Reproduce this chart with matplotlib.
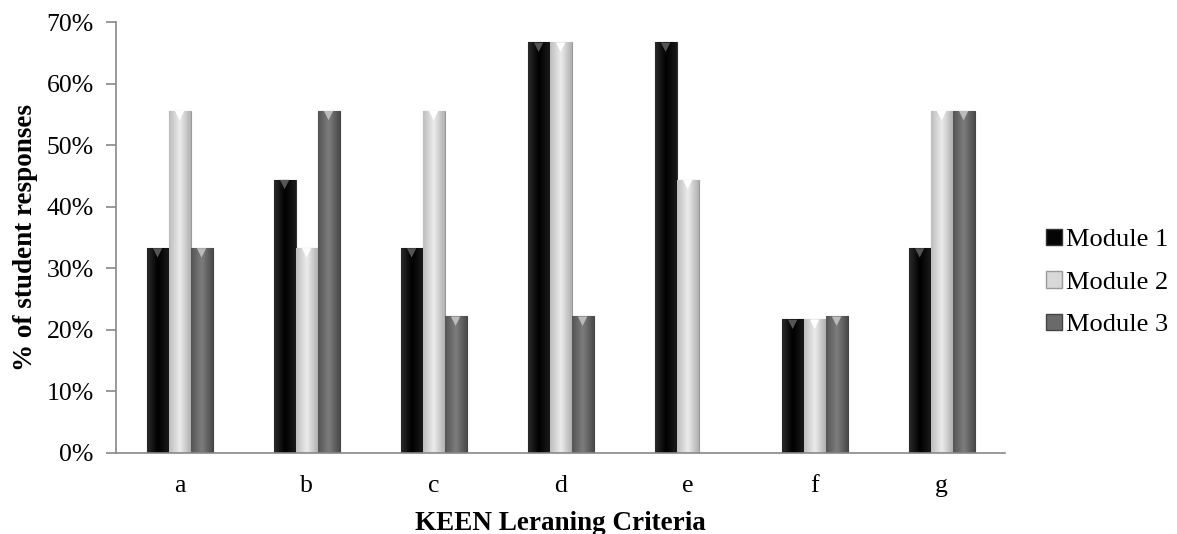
import matplotlib
matplotlib.use("Agg")
import matplotlib.pyplot as plt
import numpy as np
from matplotlib.colors import LinearSegmentedColormap
from matplotlib.patches import Patch

categories = ["a", "b", "c", "d", "e", "f", "g"]
series_names = ["Module 1", "Module 2", "Module 3"]
module1 = [33.3, 44.4, 33.3, 66.7, 66.7, 21.7, 33.3]
module2 = [55.6, 33.3, 55.6, 66.7, 44.4, 21.7, 55.6]
module3 = [33.3, 55.6, 22.2, 22.2, 0.0, 22.2, 55.6]
yticks = [0, 10, 20, 30, 40, 50, 60, 70]

plt.rcParams['font.family'] = ['Liberation Serif', 'DejaVu Serif']

fig = plt.figure(figsize=(11.77, 5.34), dpi=100)
ax = fig.add_axes([0.0986, 0.1517, 0.7554, 0.8071])

x = np.arange(len(categories))
w = 0.173
base_colors = ["#050505", "#d8d8d8", "#6a6a6a"]
edge_cols = ["#333333", "#9a9a9a", "#444444"]
grad = [("#2a2a2a", "#000000", "#1a1a1a"),
        ("#bdbdbd", "#ececec", "#b0b0b0"),
        ("#555555", "#7d7d7d", "#4a4a4a")]
tri_cols = ["#555555", "#ffffff", "#bbbbbb"]

series = [module1, module2, module3]
for i, vals in enumerate(series):
    pos = x + (i - 1) * w
    bars = ax.bar(pos, vals, width=w, color=base_colors[i], edgecolor=edge_cols[i],
                  linewidth=0.8, zorder=2)
    cmap = LinearSegmentedColormap.from_list(f"g{i}", list(grad[i]))
    for b in bars:
        h = b.get_height()
        if h <= 0:
            continue
        x0 = b.get_x()
        im = ax.imshow(np.linspace(0, 1, 64).reshape(1, -1), cmap=cmap, aspect='auto',
                       extent=[x0, x0 + b.get_width(), 0, h], zorder=2.5,
                       interpolation='bicubic')
        im.set_clip_path(b)
    nz = [(p, v) for p, v in zip(pos, vals) if v > 0]
    ax.scatter([p for p, v in nz], [v - 0.8 for p, v in nz], marker='v', s=45,
               color=tri_cols[i], edgecolors='none', zorder=3)

ax.set_xlim(-0.5, 6.5)
ax.set_ylim(0, 70)
ax.set_yticks(yticks)
ax.set_yticklabels([f"{t}%" for t in yticks], fontsize=18.5)
ax.set_xticks(x)
ax.set_xticklabels(categories, fontsize=18.5)
ax.tick_params(axis='x', length=0, pad=16)
ax.tick_params(axis='y', length=7, color='#888888', width=1.2, pad=9)
for s in ['top', 'right']:
    ax.spines[s].set_visible(False)
ax.spines['left'].set_color('#888888')
ax.spines['bottom'].set_color('#888888')
ax.spines['left'].set_linewidth(1.2)
ax.spines['bottom'].set_linewidth(1.2)

ax.set_xlabel("KEEN Leraning Criteria", fontsize=19.5, fontweight='bold', labelpad=10)
ax.set_ylabel("% of student responses", fontsize=19.5, fontweight='bold', labelpad=6)

handles = [Patch(facecolor=base_colors[i], edgecolor=edge_cols[i]) for i in range(3)]
fig.legend(handles, series_names, loc='center left', bbox_to_anchor=(0.889, 0.471),
           frameon=False, fontsize=19, handlelength=0.6, handleheight=0.6,
           handletextpad=0.15, labelspacing=0.75, borderpad=0, borderaxespad=0)

fig.savefig("out.png", dpi=100, facecolor='white')
